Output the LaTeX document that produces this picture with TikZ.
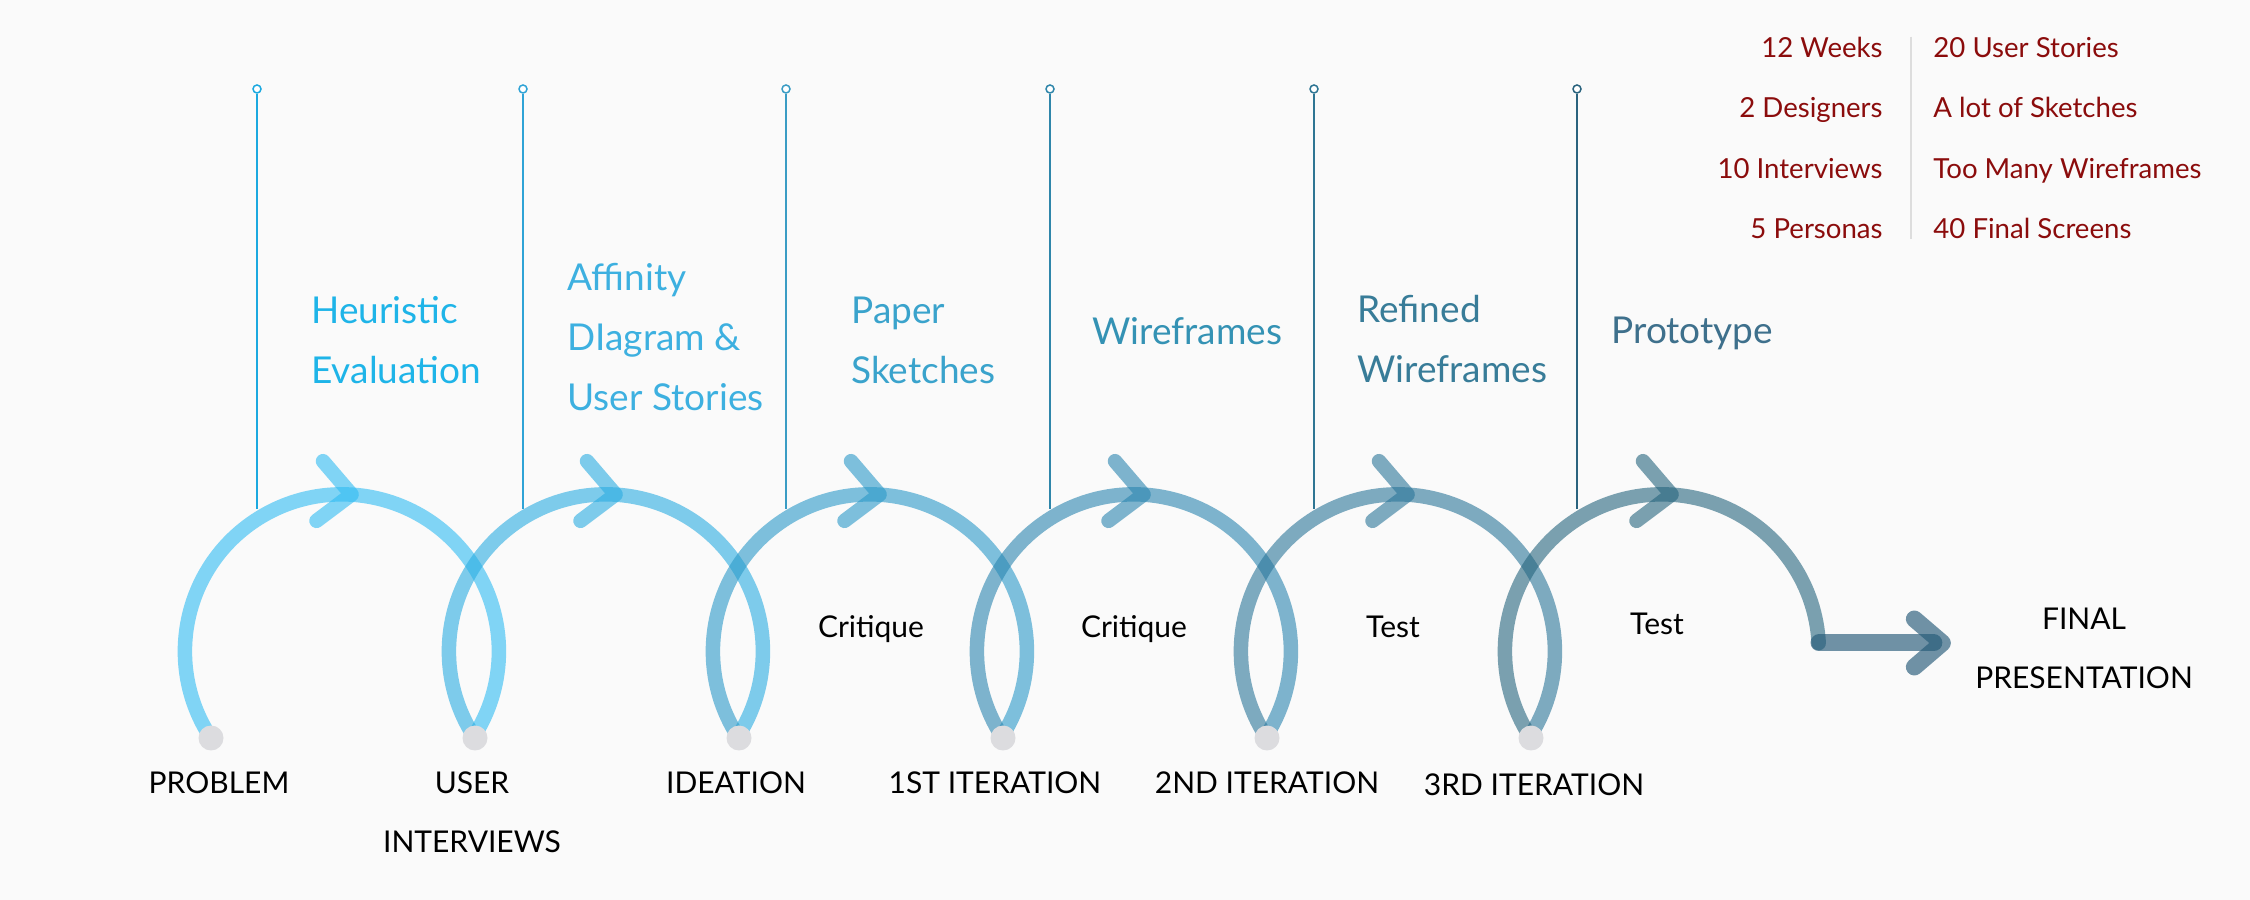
\documentclass[tikz,border=0pt]{standalone}
\usepackage{fontspec}
\setmainfont{Lato}
\usetikzlibrary{arrows.meta,decorations.markings}

\definecolor{bgray}{HTML}{FAFAFA}
\definecolor{dotgray}{HTML}{DCDCDF}
\definecolor{arcA}{RGB}{47,187,243}
\definecolor{arcB}{RGB}{42,172,225}
\definecolor{arcC}{RGB}{43,153,200}
\definecolor{arcD}{RGB}{42,133,175}
\definecolor{arcE}{RGB}{43,117,153}
\definecolor{arcF}{RGB}{37,100,125}
\definecolor{barG}{RGB}{37,90,120}
\definecolor{labA}{HTML}{1EB4E8}
\definecolor{labB}{HTML}{3DB0E0}
\definecolor{labC}{HTML}{3AA3CC}
\definecolor{labD}{HTML}{3492B4}
\definecolor{labE}{HTML}{387C98}
\definecolor{labF}{HTML}{3E708C}
\definecolor{stA}{HTML}{1CA9E0}
\definecolor{stB}{HTML}{2FA3D6}
\definecolor{stC}{HTML}{3A9CC4}
\definecolor{stD}{HTML}{2F86AA}
\definecolor{stE}{HTML}{2E7593}
\definecolor{stF}{HTML}{2A637E}
\definecolor{statred}{RGB}{139,12,12}
\definecolor{sepgray}{HTML}{DDDDDD}

\tikzset{chev/.tip={Straight Barb[length=16pt,width=30pt,round]}}

\begin{document}
\begin{tikzpicture}[x=0.5pt,y=0.5pt]
  \tikzstyle{swirl}=[line width=7.25pt,draw opacity=0.6,line cap=round,postaction={decorate},decoration={markings,mark=at position 0.525 with {\arrow{chev}}}]
  \tikzstyle{lastswirl}=[line width=7.25pt,draw opacity=0.6,line cap=round,postaction={decorate},decoration={markings,mark=at position 0.616 with {\arrow{chev}}}]
  \tikzstyle{finalbar}=[line width=8.5pt,draw=barG,draw opacity=0.65,line cap=round,-{Straight Barb[length=14pt,width=24pt,round]},shorten >=12pt]
  \tikzstyle{milestone}=[circle,fill=dotgray,minimum size=12.5pt,inner sep=0pt]
  \tikzstyle{knob}=[circle,draw,fill=white,line width=0.75pt,minimum size=4pt,inner sep=0pt]
  \tikzstyle{stem}=[line width=0.75pt]
  \tikzstyle{stage}=[anchor=west,align=left,inner sep=0pt,font=\fontsize{18.5}{30}\selectfont]
  \tikzstyle{phase}=[align=center,inner sep=0pt,font=\fontsize{15}{29.5}\selectfont]
  \tikzstyle{task}=[inner sep=0pt,font=\fontsize{15}{18}\selectfont]
  \tikzstyle{stat}=[inner sep=0pt,text=statred,font=\fontsize{13.8}{30.25}\selectfont]
  \tikzstyle{divider}=[draw=sepgray,line width=1pt]

  \fill[bgray] (0,0) rectangle (2250,900);

  \node[knob,draw=stA] (t1) at (257,811) {};
  \node[knob,draw=stB] (t2) at (523,811) {};
  \node[knob,draw=stC] (t3) at (786,811) {};
  \node[knob,draw=stD] (t4) at (1050,811) {};
  \node[knob,draw=stE] (t5) at (1314,811) {};
  \node[knob,draw=stF] (t6) at (1577,811) {};
  \coordinate (b1) at (257,391);
  \coordinate (b2) at (523,391);
  \coordinate (b3) at (786,391);
  \coordinate (b4) at (1050,391);
  \coordinate (b5) at (1314,391);
  \coordinate (b6) at (1577,391);
  \draw[stem,stA] (t1) -- (b1);
  \draw[stem,stB] (t2) -- (b2);
  \draw[stem,stC] (t3) -- (b3);
  \draw[stem,stD] (t4) -- (b4);
  \draw[stem,stE] (t5) -- (b5);
  \draw[stem,stF] (t6) -- (b6);

  \node[stage,text=labA] (heur) at (311,560) {Heuristic\\Evaluation};
  \node[stage,text=labB] (affin) at (567,563) {Affinity\\DIagram \&\\User Stories};
  \node[stage,text=labC] (paper) at (851,560) {Paper\\Sketches};
  \node[stage,text=labD] (wire) at (1092,569) {Wireframes};
  \node[stage,text=labE] (refin) at (1357,561) {Refined\\Wireframes};
  \node[stage,text=labF] (proto) at (1611,567) {Prototype};

  \coordinate (d1) at (211,162);
  \coordinate (d2) at (475,162);
  \coordinate (d3) at (739,162);
  \coordinate (d4) at (1003,162);
  \coordinate (d5) at (1267,162);
  \coordinate (d6) at (1531,162);
  \coordinate (e6) at (1819,257);

  \draw[swirl,arcA] (d1) arc[start angle=213.5,end angle=-33.5,radius=157];
  \draw[swirl,arcB] (d2) arc[start angle=213.5,end angle=-33.5,radius=157];
  \draw[swirl,arcC] (d3) arc[start angle=213.5,end angle=-33.5,radius=157];
  \draw[swirl,arcD] (d4) arc[start angle=213.5,end angle=-33.5,radius=157];
  \draw[swirl,arcE] (d5) arc[start angle=213.5,end angle=-33.5,radius=157];
  \draw[lastswirl,arcF] (d6) arc[start angle=213.5,end angle=3,radius=157];

  \node[phase] (fp) at (2084,252) {FINAL\\PRESENTATION};
  \draw[finalbar] (e6) -- (fp.west |- e6);

  \node[milestone] (p1) at (d1) {};
  \node[milestone] (p2) at (d2) {};
  \node[milestone] (p3) at (d3) {};
  \node[milestone] (p4) at (d4) {};
  \node[milestone] (p5) at (d5) {};
  \node[milestone] (p6) at (d6) {};

  \node[phase] (prob) at (219,117) {PROBLEM};
  \node[phase] (user) at (472,88) {USER\\INTERVIEWS};
  \node[phase] (idea) at (736,117) {IDEATION};
  \node[phase] (iterA) at (995,117) {1ST ITERATION};
  \node[phase] (iterB) at (1267,117) {2ND ITERATION};
  \node[phase] (iterC) at (1534,115) {3RD ITERATION};

  \node[task] (crA) at (871,271) {Critique};
  \node[task] (crB) at (1134,271) {Critique};
  \node[task] (tsA) at (1393,273) {Test};
  \node[task] (tsB) at (1657,276) {Test};

  \node[stat,anchor=east,align=right] (facts) at (1883,762) {12 Weeks\\2 Designers\\10 Interviews\\5 Personas};
  \node[stat,anchor=west,align=left] (outputs) at (1933,762) {20 User Stories\\A lot of Sketches\\Too Many Wireframes\\40 Final Screens};
  \draw[divider] ([xshift=14pt]facts.north east) -- ([xshift=14pt]facts.south east);
\end{tikzpicture}
\end{document}
